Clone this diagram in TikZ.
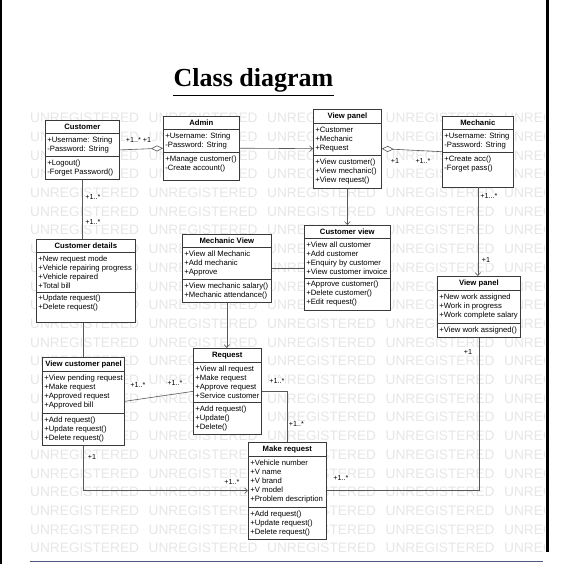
\documentclass[tikz,border=0pt]{standalone}
\usepackage{fontspec}
\setmainfont{Liberation Sans}
\newfontfamily\titlefont{Liberation Serif}
\usetikzlibrary{shapes.multipart, arrows.meta}
\definecolor{boxline}{HTML}{3A3A3A}
\definecolor{wiregray}{HTML}{585858}
\definecolor{stampgray}{HTML}{E6E6E6}
\definecolor{rulecol}{HTML}{4B5A7E}

\begin{document}
\begin{tikzpicture}[x=1pt,y=-1pt,
    class/.style={rectangle split, rectangle split parts=3,
        rectangle split part align={center,left,left},
        draw=boxline, fill=white, line width=0.7pt, align=left,
        inner xsep=2pt, inner ysep=3.2pt, anchor=north west,
        font=\fontsize{7.7}{9}\selectfont},
    mult/.style={font=\fontsize{7.2}{8}\selectfont, fill=white, inner sep=0.6pt},
    wire/.style={draw=wiregray, line width=0.6pt},
    navto/.style={-{Straight Barb[length=3pt,width=5.5pt]}},
    aggr/.style={{Diamond[fill=white,length=12pt,width=6pt]}-},
    stamp/.style={anchor=west, inner sep=0pt, text=stampgray,
        font=\fontsize{13.7}{14}\selectfont}]
    \useasboundingbox (0,0) rectangle (564,564);

    % watermark
    \begin{scope}
        \clip (25,108) rectangle (544,554);
        \foreach \r in {0,...,23}
            \foreach \c in {0,...,4}
                \node[stamp] (wm-\r-\c) at (30+118.5*\c, 118+18.7*\r) {UNREGISTERED};
    \end{scope}

    % page frame
    \fill (0,0) rectangle (2.2,564);
    \fill (546,0) rectangle (548.5,552);
    \draw[rulecol, line width=1pt] (30,561) -- (543,561);

    % title
    \node[font=\titlefont\bfseries\fontsize{26}{30}\selectfont, inner sep=0pt, anchor=base]
        (title) at (253.5,87) {Class diagram};
    \draw[line width=1.6pt] ([yshift=-8.5pt]title.base west) -- ([yshift=-8.5pt]title.base east);

    % classes
    \node[class, minimum width=74pt] (customer) at (45,120)
        {\textbf{Customer}
         \nodepart{second} +Username: String\\-Password: String
         \nodepart{third} +Logout()\\-Forget Password()};
    \node[class, minimum width=76pt] (admin) at (163,116)
        {\textbf{Admin}
         \nodepart{second} +Username: String\\-Password: String
         \nodepart{third} +Manage customer()\\-Create account()\rule[-6pt]{0pt}{6pt}};
    \node[class, minimum width=68pt] (viewpanel) at (313,109)
        {\textbf{View panel}
         \nodepart{second} +Customer\\+Mechanic\\+Request
         \nodepart{third} +View customer()\\+View mechanic()\\+View request()};
    \node[class, minimum width=71pt] (mechanic) at (442,116)
        {\textbf{Mechanic}
         \nodepart{second} +Username: String\\-Password: String
         \nodepart{third} +Create acc()\\-Forget pass()\\[4pt]\mbox{}};
    \node[class, minimum width=99pt] (custdetails) at (36,239)
        {\textbf{Customer details}
         \nodepart{second} +New request mode\\+Vehicle repairing progress\\+Vehicle repaired\\+Total bill
         \nodepart{third} +Update request()\\+Delete request()\\\mbox{}};
    \node[class, minimum width=89pt] (mechview) at (182,234)
        {\textbf{Mechanic View}
         \nodepart{second} +View all Mechanic\\+Add mechanic\\+Approve
         \nodepart{third} +View mechanic salary()\\+Mechanic attendance()};
    \node[class, minimum width=86pt] (customerview) at (304,225)
        {\textbf{Customer view}
         \nodepart{second} +View all customer\\+Add customer\\+Enquiry by customer\\+View customer invoice
         \nodepart{third} +Approve customer()\\+Delete customer()\\+Edit request()};
    \node[class, minimum width=83pt] (viewpanelb) at (437,276)
        {\textbf{View panel}
         \nodepart{second} +New work assigned\\+Work in progress\\+Work complete salary
         \nodepart{third} +View work assigned()};
    \node[class, minimum width=82pt] (vcpanel) at (42,357)
        {\textbf{View customer panel}
         \nodepart{second} +View pending request\\+Make request\\+Approved request\\+Approved bill
         \nodepart{third} +Add request()\\+Update request()\\+Delete request()};
    \node[class, minimum width=68pt] (request) at (193,348)
        {\textbf{Request}
         \nodepart{second} +View all request\\+Make request\\+Approve request\\+Service customer
         \nodepart{third} +Add request()\\+Update()\\+Delete()};
    \node[class, minimum width=78pt] (makereq) at (248,442)
        {\textbf{Make request}
         \nodepart{second} +Vehicle number\\+V name\\+V brand\\+V model\\+Problem description
         \nodepart{third} +Add request()\\+Update request()\\+Delete request()};

    % connectors
    \draw[wire, aggr] (admin.west) -- (customer.east);
    \draw[wire, navto] (admin.east) -- (viewpanel.west);
    \draw[wire, aggr] (viewpanel.east) -- (mechanic.west);
    \draw[wire, navto] (viewpanel.south) -- (customerview.north);
    \draw[wire, navto] (mechanic.south) -- (mechanic.south |- viewpanelb.north);
    \draw[wire] (customer.south) -- (customer.south |- custdetails.north);
    \draw[wire] (mechview.east) -- (mechview.east -| customerview.west);
    \draw[wire, navto] (mechview.south) -- (mechview.south |- request.north);
    \draw[wire] (vcpanel.north) -- (vcpanel.north |- custdetails.south);
    \draw[wire] (vcpanel.east) -- (request.west);
    \draw[wire] (request.east) -| (makereq.north);
    \draw[wire, navto] (vcpanel.south) |- (makereq.west);
    \draw[wire] (viewpanelb.south) |- (makereq.east);

    % multiplicities
    \node[mult] (m-cu) at (133.5,140) {+1..*};
    \node[mult] (m-ad) at (147,140) {+1};
    \node[mult, anchor=west] (m-cd1) at (84.5,197) {+1..*};
    \node[mult, anchor=west] (m-cd2) at (84.5,222) {+1..*};
    \node[mult] (m-vp) at (395,161) {+1};
    \node[mult] (m-me) at (423,161) {+1..*};
    \node[mult, anchor=west] (m-mb1) at (479.5,196) {+1...*};
    \node[mult, anchor=west] (m-mb2) at (481,260) {+1};
    \node[mult] (m-vc) at (138,385) {+1..*};
    \node[mult] (m-rq) at (175,383) {+1..*};
    \node[mult] (m-rq2) at (277,381) {+1..*};
    \node[mult, anchor=west] (m-mr1) at (288,424) {+1..*};
    \node[mult] (m-vc2) at (92,457) {+1};
    \node[mult] (m-mr2) at (232,482) {+1..*};
    \node[mult] (m-vb) at (468,352) {+1};
    \node[mult] (m-mr3) at (341,478) {+1..*};
\end{tikzpicture}
\end{document}
